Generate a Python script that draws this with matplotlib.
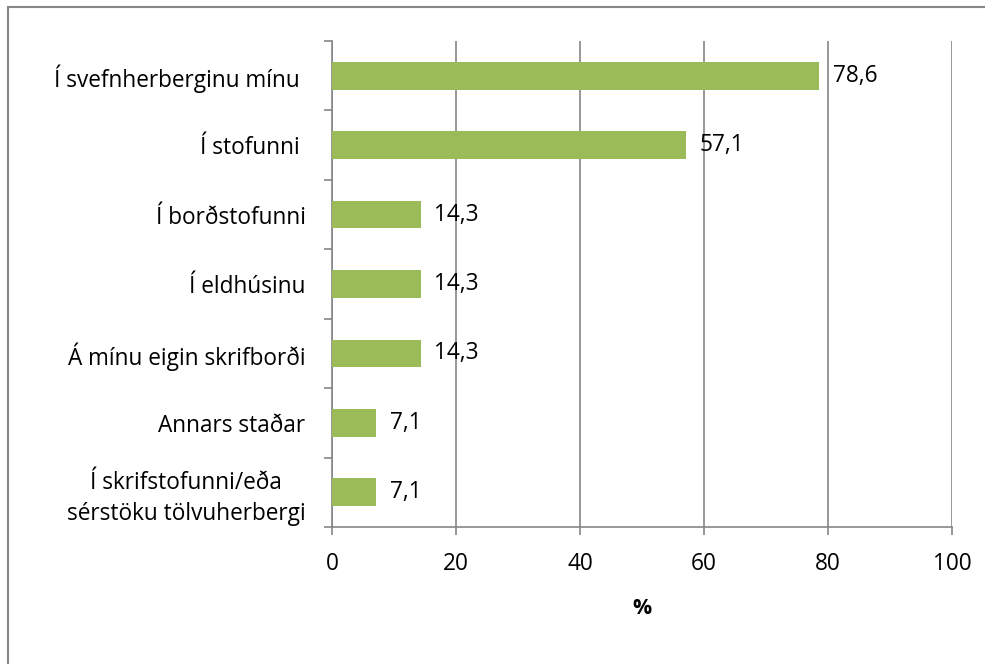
import matplotlib.pyplot as plt
from matplotlib.patches import Rectangle

plt.rcParams['font.family'] = ['Open Sans', 'DejaVu Sans']

categories = ["Í svefnherberginu mínu ", "Í stofunni ", "Í borðstofunni", "Í eldhúsinu",
              "Á mínu eigin skrifborði", "Annars staðar",
              "Í skrifstofunni/eða\nsérstöku tölvuherbergi"]
values = [78.6, 57.1, 14.3, 14.3, 14.3, 7.1, 7.1]
labels = ["78,6", "57,1", "14,3", "14,3", "14,3", "7,1", "7,1"]
xticks = [0, 20, 40, 60, 80, 100]

W, H = 985, 664
fs = 16.3
fig = plt.figure(figsize=(W / 100, H / 100), dpi=100)
ax = fig.add_axes([332 / W, 1 - 527 / H, (952 - 332) / W, (527 - 41) / H])

grey = "#868686"
pos = list(range(len(categories)))
ax.barh(pos, values, height=0.4, color="#9BBB59", zorder=3)
for p, v, t in zip(pos, values, labels):
    ax.text(v + 2.2, p, t, va="center", ha="left", fontsize=fs, zorder=4)

ax.set_ylim(len(categories) - 0.5, -0.5)
ax.set_xlim(0, 100)
ax.set_xticks(xticks)
ax.set_xticklabels([str(x) for x in xticks], fontsize=fs)
ax.set_yticks(pos)
ax.set_yticklabels(categories, fontsize=fs, multialignment="center", linespacing=1.4)
ax.set_yticks([i - 0.5 for i in range(len(categories) + 1)], minor=True)
ax.tick_params(axis="y", which="major", length=0, pad=19)
ax.tick_params(axis="y", which="minor", length=6, color=grey, width=1.2)
ax.tick_params(axis="x", length=6, color=grey, width=1.2, pad=12)
ax.grid(axis="x", color=grey, linewidth=1.2, zorder=0)
for s in ["top", "right"]:
    ax.spines[s].set_visible(False)
for s in ["left", "bottom"]:
    ax.spines[s].set_color(grey)
    ax.spines[s].set_linewidth(1.2)
ax.set_xlabel("%", fontsize=fs - 1, fontweight="bold", labelpad=16)

fig.patches.append(Rectangle((8 / W, -0.1), 1.2, 1.1 - 7 / H, transform=fig.transFigure,
                             fill=False, edgecolor=grey, linewidth=1.5))

fig.savefig("out.png", dpi=100)
